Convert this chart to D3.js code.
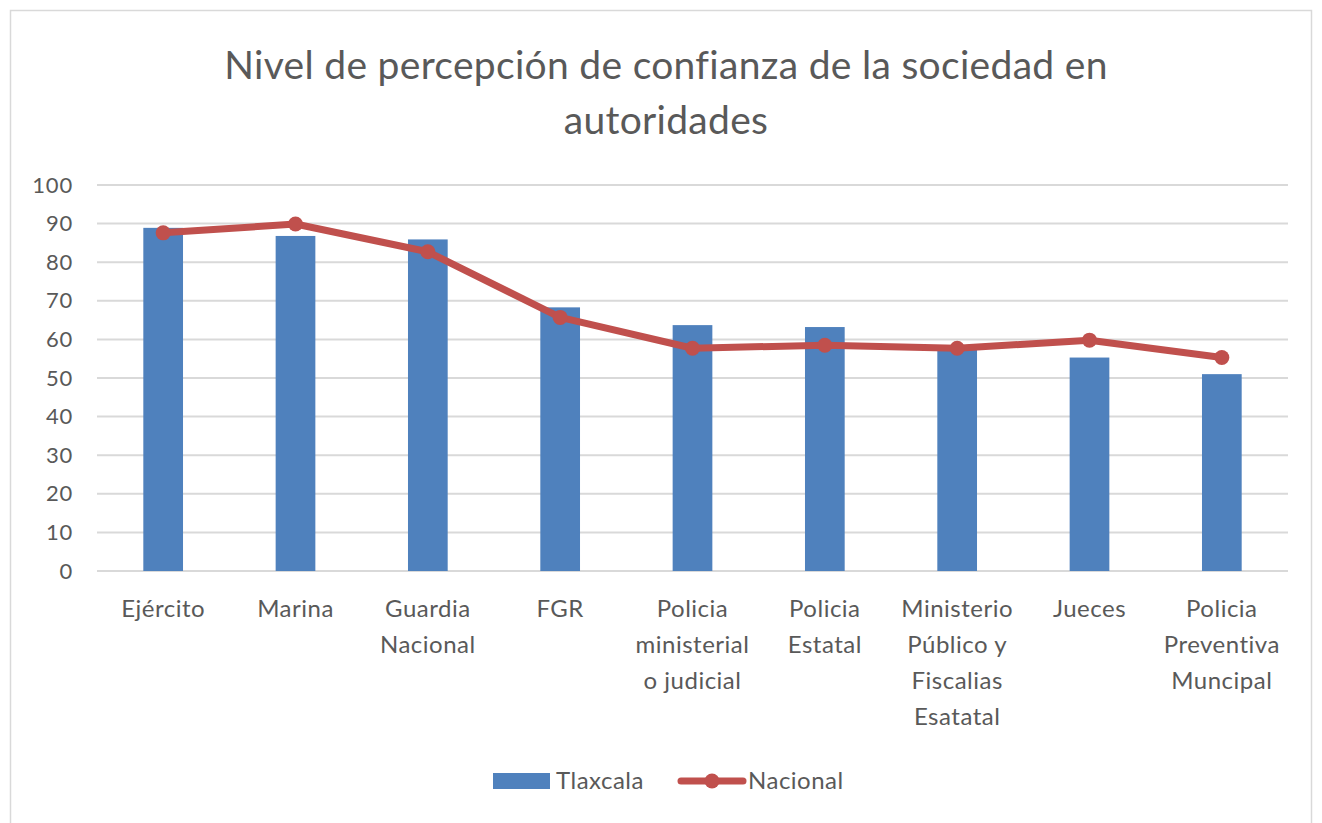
<!DOCTYPE html>
<html><head><meta charset="utf-8">
<script src="https://cdn.jsdelivr.net/npm/d3@7"></script>
<style>body{margin:0;background:#fff;}svg{display:block;}</style>
</head><body>
<script>
const categories = [
  ["Ejército"],
  ["Marina"],
  ["Guardia","Nacional"],
  ["FGR"],
  ["Policia","ministerial","o judicial"],
  ["Policia","Estatal"],
  ["Ministerio","Público y","Fiscalias","Esatatal"],
  ["Jueces"],
  ["Policia","Preventiva","Muncipal"]
];
const tlaxcala = [88.9, 86.8, 85.9, 68.3, 63.7, 63.2, 57.8, 55.3, 51.0];
const nacional = [87.6, 89.9, 82.7, 65.7, 57.7, 58.5, 57.7, 59.8, 55.3];
const yTicks = [0,10,20,30,40,50,60,70,80,90,100];
const seriesNames = ["Tlaxcala","Nacional"];
const title = ["Nivel de percepción de confianza de la sociedad en","autoridades"];

const W=1322,H=823;
const font = "Lato, 'Open Sans', sans-serif";
const txt = "#595959";
const svg = d3.select("body").append("svg").attr("width",W).attr("height",H);
svg.append("rect").attr("x",10.5).attr("y",10.5).attr("width",1301).attr("height",830)
  .attr("fill","#fff").attr("stroke","#d9d9d9").attr("stroke-width",1.5);

const idx = categories.map((d,i)=>i);
const x = d3.scaleBand().domain(idx).range([97,1288]).paddingInner(0.7).paddingOuter(0.35);
const xc = d3.scaleBand().domain(idx).range([97,1288]);
const y = d3.scaleLinear().domain([0,100]).range([571,185]);

// title
svg.append("g").selectAll("text").data(title).join("text")
  .attr("x",666).attr("y",(d,i)=>65+i*55).attr("dy","0.35em")
  .attr("text-anchor","middle").attr("font-family",font).attr("font-size",39)
  .attr("letter-spacing",0.3).attr("fill",txt).text(d=>d);

// gridlines
svg.append("g").selectAll("line").data(yTicks).join("line")
  .attr("x1",97).attr("x2",1288).attr("y1",d=>y(d)).attr("y2",d=>y(d))
  .attr("stroke","#d9d9d9").attr("stroke-width",2);

// y axis labels
const yAxis = d3.axisLeft(y).tickValues(yTicks).tickSize(0).tickPadding(0);
const ya = svg.append("g").attr("transform","translate(73,0)").call(yAxis);
ya.select(".domain").remove();
ya.selectAll("text").attr("font-family",font).attr("font-size",22).attr("letter-spacing",0.8).attr("fill",txt);

// bars
svg.append("g").selectAll("rect").data(tlaxcala).join("rect")
  .attr("x",(d,i)=>x(i)).attr("width",x.bandwidth())
  .attr("y",d=>y(d)).attr("height",d=>y(0)-y(d)).attr("fill","#4F81BD");

// line
const cx = i => xc(i)+xc.bandwidth()/2;
svg.append("path").datum(nacional)
  .attr("d",d3.line().x((d,i)=>cx(i)).y(d=>y(d)))
  .attr("fill","none").attr("stroke","#C0504D").attr("stroke-width",7).attr("stroke-linejoin","round");
svg.append("g").selectAll("circle").data(nacional).join("circle")
  .attr("cx",(d,i)=>cx(i)).attr("cy",d=>y(d)).attr("r",7.5).attr("fill","#C0504D");

// category labels
const xl = svg.append("g");
categories.forEach((lines,i)=>{
  const t = xl.append("text").attr("text-anchor","middle").attr("font-family",font)
    .attr("font-size",24).attr("letter-spacing",0.5).attr("fill",txt);
  lines.forEach((l,j)=>t.append("tspan").attr("x",cx(i)).attr("y",609+j*36).attr("dy","0.35em").text(l));
});

// legend
const lg = svg.append("g");
lg.append("rect").attr("x",493).attr("y",773).attr("width",57).attr("height",16).attr("fill","#4F81BD");
lg.append("text").attr("x",556).attr("y",781).attr("dy","0.35em").attr("font-family",font).attr("font-size",24).attr("letter-spacing",0.5).attr("fill",txt).text(seriesNames[0]);
lg.append("line").attr("x1",681).attr("x2",743).attr("y1",781).attr("y2",781).attr("stroke","#C0504D").attr("stroke-width",7).attr("stroke-linecap","round");
lg.append("circle").attr("cx",712).attr("cy",781).attr("r",7.5).attr("fill","#C0504D");
lg.append("text").attr("x",748).attr("y",781).attr("dy","0.35em").attr("font-family",font).attr("font-size",24).attr("letter-spacing",0.5).attr("fill",txt).text(seriesNames[1]);
</script>
</body></html>
